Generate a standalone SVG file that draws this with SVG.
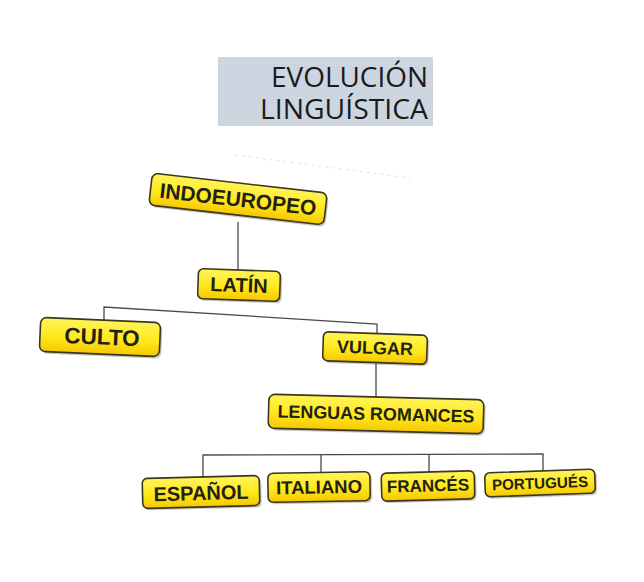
<svg xmlns="http://www.w3.org/2000/svg" width="644" height="582" viewBox="0 0 644 582">
<defs>
<linearGradient id="yel" x1="0" y1="0" x2="0" y2="1">
<stop offset="0" stop-color="#fff45a"/>
<stop offset="0.55" stop-color="#ffe81c"/>
<stop offset="1" stop-color="#f6c800"/>
</linearGradient>
</defs>
<style>
.box{fill:url(#yel);stroke:#3d3620;stroke-width:1.6}
.sh{fill:#8a8470;opacity:0.45}
.lbl{font-family:"Liberation Sans",Arial,sans-serif;font-weight:bold;fill:#231f14;text-anchor:middle;dominant-baseline:central}
.con{fill:none;stroke:#4a4a4a;stroke-width:1.3}
.title{font-family:"Open Sans","Noto Sans",sans-serif;font-size:27px;fill:#1a1a1a;text-anchor:end}
</style>
<rect width="644" height="582" fill="#ffffff"/>
<g id="title">
<rect x="218" y="57" width="215" height="69" fill="#cdd5e1"/>
<text class="title" x="428" y="87" textLength="157" lengthAdjust="spacingAndGlyphs">EVOLUCIÓN</text>
<text class="title" x="428" y="119" textLength="168" lengthAdjust="spacingAndGlyphs">LINGUÍSTICA</text>
</g>
<path d="M235 155 L410 178" stroke="#e4e4e4" stroke-width="1" stroke-dasharray="3 4" fill="none"/>
<g id="connectors">
<path class="con" d="M238 222 V271"/>
<path class="con" d="M104 320 V307 L377 324 V335"/>
<path class="con" d="M376 362 V398"/>
<path class="con" d="M203 478 V455 L543 454 V472"/>
<path class="con" d="M321 455 V474"/>
<path class="con" d="M429 455 V474"/>
</g>
<g id="indoeuropeo" transform="translate(238,199) rotate(6.5)">
<rect class="sh" x="-86" y="-14" width="176" height="32" rx="6"/>
<rect class="box" x="-88" y="-16" width="176" height="32" rx="6"/>
<text class="lbl" x="0" y="0" font-size="21">INDOEUROPEO</text>
</g>
<g id="latin" transform="translate(239,285) rotate(2)">
<rect class="sh" x="-39" y="-13" width="82" height="30" rx="5"/>
<rect class="box" x="-41" y="-15" width="82" height="30" rx="5"/>
<text class="lbl" x="0" y="0" font-size="20">LATÍN</text>
</g>
<g id="culto" transform="translate(100,337) rotate(2.5)">
<rect class="sh" x="-58" y="-15" width="120" height="34" rx="6"/>
<rect class="box" x="-60" y="-17" width="120" height="34" rx="6"/>
<text class="lbl" x="2" y="0" font-size="22.5">CULTO</text>
</g>
<g id="vulgar" transform="translate(375,348) rotate(2)">
<rect class="sh" x="-50" y="-12.5" width="104" height="29" rx="5"/>
<rect class="box" x="-52" y="-14.5" width="104" height="29" rx="5"/>
<text class="lbl" x="0" y="0" font-size="18">VULGAR</text>
</g>
<g id="lenguas-romances" transform="translate(376,414) rotate(1.5)">
<rect class="sh" x="-105.5" y="-15" width="215" height="34" rx="6"/>
<rect class="box" x="-107.5" y="-17" width="215" height="34" rx="6"/>
<text class="lbl" x="0" y="0" font-size="18" textLength="197" lengthAdjust="spacingAndGlyphs">LENGUAS ROMANCES</text>
</g>
<g id="espanol" transform="translate(201,492) rotate(-1.5)">
<rect class="sh" x="-56.5" y="-13" width="117" height="30" rx="5"/>
<rect class="box" x="-58.5" y="-15" width="117" height="30" rx="5"/>
<text class="lbl" x="0" y="1" font-size="20">ESPAÑOL</text>
</g>
<g id="italiano" transform="translate(319,487) rotate(-1)">
<rect class="sh" x="-49" y="-12.5" width="102" height="29" rx="5"/>
<rect class="box" x="-51" y="-14.5" width="102" height="29" rx="5"/>
<text class="lbl" x="0" y="0" font-size="18.5">ITALIANO</text>
</g>
<g id="frances" transform="translate(428,486) rotate(-1.5)">
<rect class="sh" x="-44.5" y="-12" width="93" height="28" rx="5"/>
<rect class="box" x="-46.5" y="-14" width="93" height="28" rx="5"/>
<text class="lbl" x="0" y="0" font-size="17">FRANCÉS</text>
</g>
<g id="portugues" transform="translate(540,483) rotate(-2)">
<rect class="sh" x="-53" y="-10" width="110" height="24" rx="5"/>
<rect class="box" x="-55" y="-12" width="110" height="24" rx="5"/>
<text class="lbl" x="0" y="0" font-size="15.2">PORTUGUÉS</text>
</g>
</svg>
